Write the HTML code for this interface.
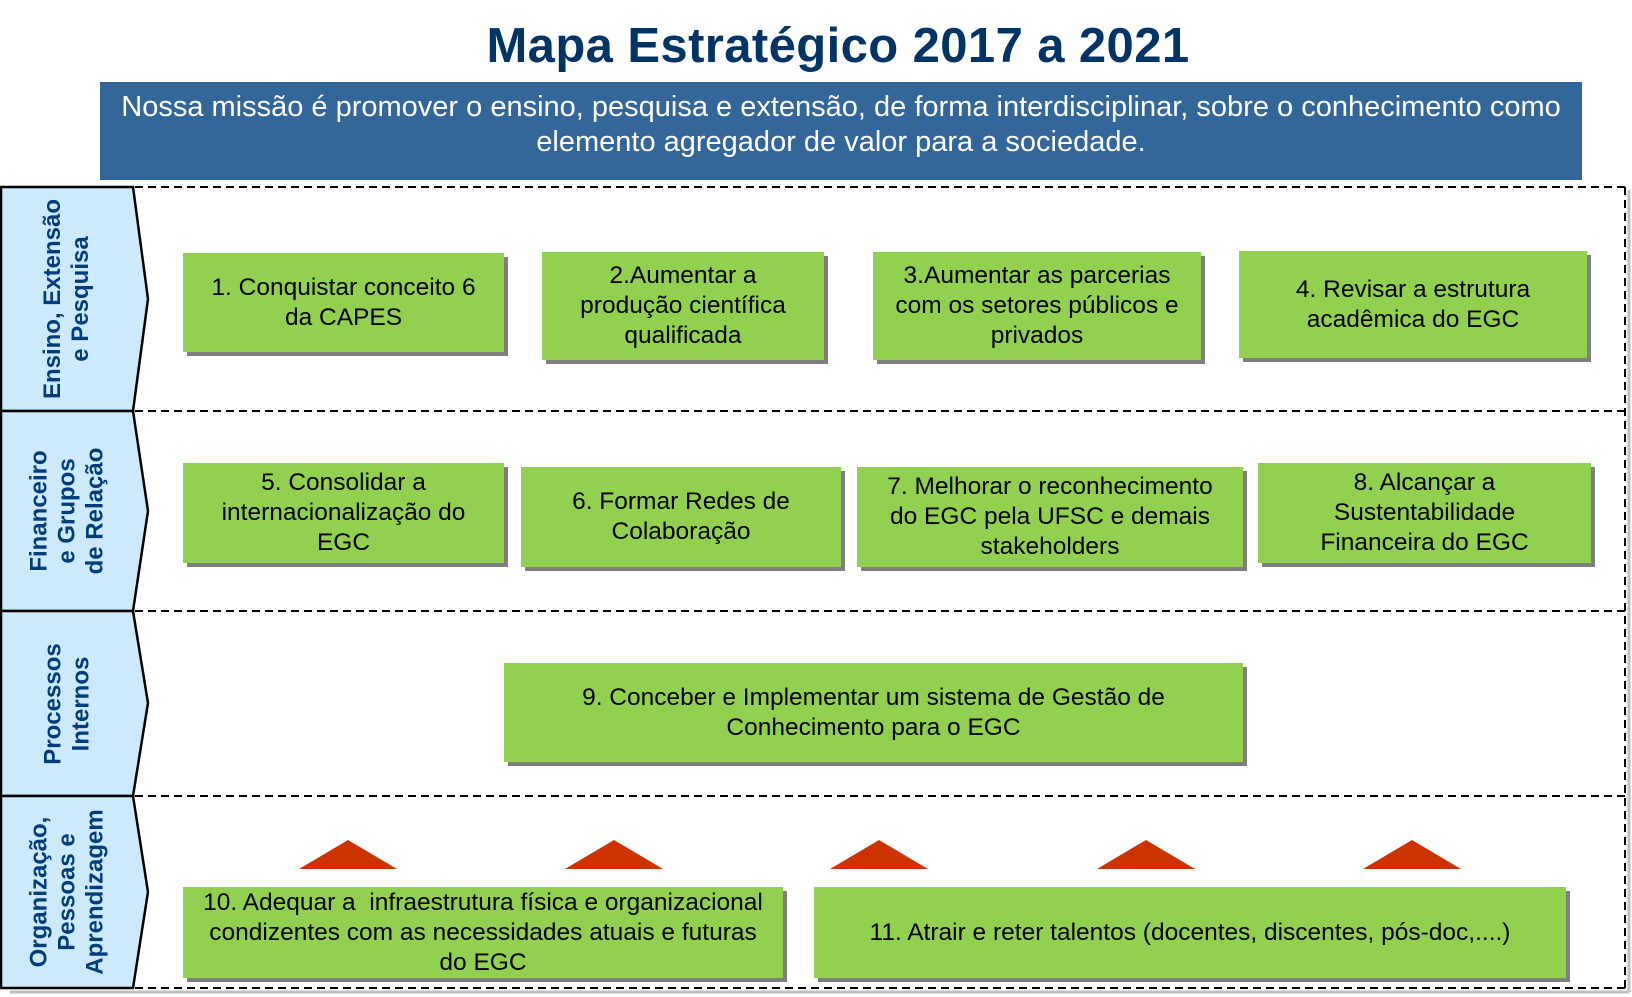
<!DOCTYPE html>
<html><head><meta charset="utf-8"><style>
body{margin:0;width:1632px;height:997px;background:#fff;position:relative;overflow:hidden;font-family:"Liberation Sans",Arial,sans-serif}
.a{position:absolute}
.title{left:22px;width:1632px;top:18px;text-align:center;font-size:49px;font-weight:bold;color:#003366;letter-spacing:0.4px}
.mis{left:100px;top:76px;width:1482px;height:98px;color:#fff;font-size:29px;text-align:center;display:flex;align-items:center;justify-content:center;line-height:35px;white-space:nowrap}
.misbg{left:100px;top:82px;width:1482px;height:98px;background:#336699}
.box{position:absolute;background:#92d050;box-shadow:4px 4px 0 #7f7f7f;display:flex;align-items:center;justify-content:center;text-align:center;font-size:24.5px;line-height:30px;color:#000;white-space:nowrap}
.lab{position:absolute;left:0;width:135px;display:flex;align-items:center;justify-content:center}
.lab div{transform:rotate(-90deg);white-space:nowrap;text-align:center;font-weight:bold;color:#003d7a;font-size:24px;line-height:28px}
</style></head><body>
<div class="a title">Mapa Estratégico 2017 a 2021</div>
<div class="a misbg"></div>
<div class="a mis"><div>Nossa missão é promover o ensino, pesquisa e extensão, de forma interdisciplinar, sobre o conhecimento como<br>elemento agregador de valor para a sociedade.</div></div>
<svg class="a" style="left:0;top:0" width="1632" height="997">
<g fill="#cc3300">
<polygon points="348,840 299,869 397,869"/><polygon points="614,840 565,869 663,869"/><polygon points="879,840 830,869 928,869"/><polygon points="1146,840 1097,869 1195,869"/><polygon points="1412,840 1363,869 1461,869"/>
</g>
<g stroke="#000" stroke-width="2" stroke-dasharray="8,5" fill="none">
<line x1="135" y1="187" x2="1625" y2="187"/><line x1="135" y1="411" x2="1625" y2="411"/><line x1="135" y1="611" x2="1625" y2="611"/><line x1="135" y1="796" x2="1625" y2="796"/><line x1="135" y1="988" x2="1625" y2="988"/><line x1="1625" y1="187" x2="1625" y2="988"/>
</g>
<g stroke="#c0c0c0" stroke-width="3" fill="none"><line x1="1629" y1="190" x2="1629" y2="992"/><line x1="10" y1="992" x2="1629" y2="992"/></g>
<g fill="#cceafb" stroke="#000" stroke-width="2.5">
<polygon points="1,187 133,187 148,299 133,411 1,411"/>
<polygon points="1,411 133,411 148,511 133,611 1,611"/>
<polygon points="1,611 133,611 148,703 133,796 1,796"/>
<polygon points="1,796 133,796 148,892 133,988 1,988"/>
</g>
</svg>
<div class="lab" style="top:187px;height:224px"><div>Ensino, Extensão<br>e Pesquisa</div></div>
<div class="lab" style="top:411px;height:200px"><div>Financeiro<br>e Grupos<br>de Relação</div></div>
<div class="lab" style="top:611px;height:185px"><div>Processos<br>Internos</div></div>
<div class="lab" style="top:796px;height:192px"><div>Organização,<br>Pessoas e<br>Aprendizagem</div></div>
<div class="box" style="left:183px;top:253px;width:321px;height:99px">1. Conquistar conceito 6<br>da CAPES</div>
<div class="box" style="left:542px;top:252px;width:282px;height:108px">2.Aumentar a<br>produção científica<br>qualificada</div>
<div class="box" style="left:873px;top:252px;width:328px;height:108px">3.Aumentar as parcerias<br>com os setores públicos e<br>privados</div>
<div class="box" style="left:1239px;top:251px;width:348px;height:107px">4. Revisar a estrutura<br>acadêmica do EGC</div>
<div class="box" style="left:183px;top:463px;width:321px;height:100px">5. Consolidar a<br>internacionalização do<br>EGC</div>
<div class="box" style="left:521px;top:467px;width:320px;height:100px">6. Formar Redes de<br>Colaboração</div>
<div class="box" style="left:857px;top:467px;width:386px;height:100px">7. Melhorar o reconhecimento<br>do EGC pela UFSC e demais<br>stakeholders</div>
<div class="box" style="left:1258px;top:463px;width:333px;height:100px">8. Alcançar a<br>Sustentabilidade<br>Financeira do EGC</div>
<div class="box" style="left:504px;top:663px;width:739px;height:99px">9. Conceber e Implementar um sistema de Gestão de<br>Conhecimento para o EGC</div>
<div class="box" style="left:183px;top:887px;width:600px;height:91px">10. Adequar a &nbsp;infraestrutura física e organizacional<br>condizentes com as necessidades atuais e futuras<br>do EGC</div>
<div class="box" style="left:814px;top:887px;width:752px;height:91px">11. Atrair e reter talentos (docentes, discentes, pós-doc,....)</div>
</body></html>
